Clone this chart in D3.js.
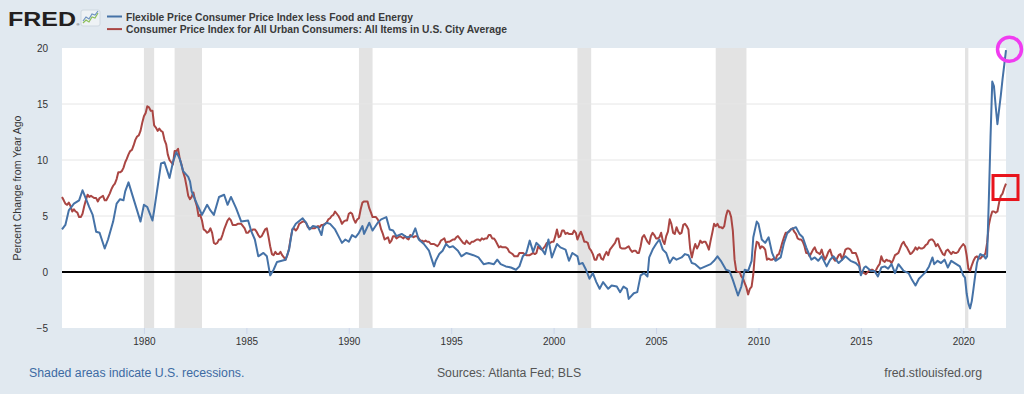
<!DOCTYPE html>
<html>
<head>
<meta charset="utf-8">
<script src="https://cdn.jsdelivr.net/npm/d3@7/dist/d3.min.js"></script>
<style>
  body { margin: 0; background: #e1e9f0; }
  svg { display: block; font-family: "Liberation Sans", Arial, sans-serif; }
</style>
</head>
<body>
<svg id="chart" width="1024" height="394"></svg>
<script>
// CPI all items, percent change from year ago, monthly from Jan 1976
var cpiStart = "1976-01";
var cpiValues = [
  6.7, 6.4, 6.1, 6.0, 6.2, 5.9, 5.4, 5.6, 5.4, 5.3, 4.9, 4.9,
  5.2, 5.9, 6.4, 6.9, 6.7, 6.8, 6.7, 6.6, 6.6, 6.3, 6.6, 6.7,
  6.8, 6.4, 6.4, 6.7, 7.0, 7.4, 7.7, 7.9, 8.3, 8.9, 8.9, 9.0,
  9.3, 9.8, 10.1, 10.5, 10.8, 10.9, 11.3, 11.8, 12.1, 12.2, 12.6, 13.3,
  13.9, 14.2, 14.8, 14.7, 14.4, 14.4, 13.1, 12.9, 12.6, 12.8, 12.6, 12.5,
  11.8, 11.4, 10.5, 10.0, 9.8, 9.6, 10.8, 10.8, 11.0, 10.1, 9.6, 8.9,
  8.4, 7.6, 6.8, 6.5, 6.7, 7.1, 6.4, 5.9, 5.0, 5.1, 4.6, 3.8,
  3.7, 3.5, 3.6, 3.9, 3.5, 2.6, 2.5, 2.6, 2.9, 2.9, 3.3, 3.8,
  4.2, 4.6, 4.8, 4.6, 4.2, 4.2, 4.2, 4.3, 4.3, 4.3, 4.1, 3.9,
  3.5, 3.5, 3.7, 3.7, 3.8, 3.8, 3.6, 3.3, 3.1, 3.2, 3.5, 3.8,
  3.9, 3.1, 2.3, 1.6, 1.5, 1.8, 1.6, 1.6, 1.8, 1.5, 1.3, 1.1,
  1.5, 2.1, 3.0, 3.8, 3.9, 3.7, 3.9, 4.3, 4.4, 4.5, 4.5, 4.4,
  4.0, 3.9, 3.9, 3.9, 3.9, 4.0, 4.1, 4.0, 4.2, 4.2, 4.3, 4.4,
  4.7, 4.8, 5.0, 5.1, 5.4, 5.2, 5.0, 4.7, 4.3, 4.5, 4.6, 4.6,
  5.2, 5.3, 5.2, 4.7, 4.4, 4.7, 4.8, 5.6, 6.2, 6.3, 6.3, 6.3,
  5.7, 5.3, 4.9, 4.9, 4.9, 4.7, 4.4, 3.8, 3.4, 2.9, 3.0, 3.1,
  2.6, 2.8, 3.2, 3.2, 3.0, 3.1, 3.2, 3.1, 3.0, 3.2, 3.0, 2.9,
  3.3, 3.2, 3.1, 3.2, 3.2, 3.0, 2.8, 2.8, 2.7, 2.8, 2.7, 2.7,
  2.5, 2.5, 2.5, 2.4, 2.3, 2.5, 2.8, 2.9, 3.0, 2.6, 2.7, 2.7,
  2.8, 2.9, 2.9, 3.1, 3.2, 3.0, 2.8, 2.6, 2.5, 2.8, 2.6, 2.5,
  2.7, 2.7, 2.8, 2.9, 2.9, 2.8, 3.0, 2.9, 3.0, 3.0, 3.3, 3.3,
  3.0, 3.0, 2.8, 2.5, 2.2, 2.3, 2.2, 2.2, 2.2, 2.1, 1.8, 1.7,
  1.6, 1.4, 1.4, 1.4, 1.7, 1.7, 1.7, 1.6, 1.5, 1.5, 1.5, 1.6,
  1.7, 1.6, 1.7, 2.3, 2.1, 2.0, 2.1, 2.3, 2.6, 2.6, 2.6, 2.7,
  2.7, 3.2, 3.8, 3.1, 3.2, 3.7, 3.7, 3.4, 3.5, 3.4, 3.4, 3.4,
  3.7, 3.5, 2.9, 3.3, 3.6, 3.2, 2.7, 2.7, 2.6, 2.1, 1.9, 1.6,
  1.1, 1.1, 1.5, 1.6, 1.2, 1.1, 1.5, 1.8, 1.5, 2.0, 2.2, 2.4,
  2.6, 3.0, 3.0, 2.2, 2.1, 2.1, 2.1, 2.2, 2.3, 2.0, 1.8, 1.9,
  1.9, 1.7, 1.7, 2.3, 3.1, 3.3, 3.0, 2.7, 2.5, 3.2, 3.5, 3.3,
  3.0, 3.0, 3.1, 3.5, 2.8, 2.5, 3.2, 3.6, 4.7, 4.3, 3.5, 3.4,
  4.0, 3.6, 3.4, 3.5, 4.2, 4.3, 4.1, 3.8, 2.1, 1.3, 2.0, 2.5,
  2.1, 2.4, 2.8, 2.6, 2.7, 2.7, 2.4, 2.0, 2.8, 3.5, 4.3, 4.1,
  4.3, 4.0, 4.0, 3.9, 4.1, 5.0, 5.5, 5.4, 4.9, 3.7, 1.1, 0.1,
  0.0, 0.0, -0.4, -0.6, -1.0, -1.4, -2.0, -1.5, -1.3, -0.2, 1.8, 2.7,
  2.6, 2.1, 2.3, 2.2, 2.0, 1.1, 1.2, 1.1, 1.1, 1.2, 1.1, 1.5,
  1.6, 2.1, 2.6, 3.1, 3.5, 3.5, 3.6, 3.8, 3.9, 3.6, 3.4, 3.0,
  2.9, 2.9, 2.7, 2.3, 1.7, 1.7, 1.4, 1.7, 2.0, 2.2, 1.8, 1.7,
  1.6, 2.0, 1.5, 1.1, 1.4, 1.8, 2.0, 1.5, 1.2, 1.0, 1.2, 1.5,
  1.6, 1.1, 1.5, 2.0, 2.1, 2.1, 2.0, 1.7, 1.7, 1.7, 1.3, 0.8,
  -0.1, 0.0, -0.1, -0.2, 0.0, 0.1, 0.2, 0.2, 0.0, 0.2, 0.5, 0.7,
  1.4, 1.0, 0.9, 1.1, 1.0, 1.0, 0.8, 1.1, 1.5, 1.6, 1.7, 2.1,
  2.5, 2.7, 2.4, 2.2, 1.9, 1.6, 1.7, 1.9, 2.2, 2.0, 2.2, 2.1,
  2.1, 2.2, 2.4, 2.5, 2.8, 2.9, 2.9, 2.7, 2.3, 2.5, 2.2, 1.9,
  1.6, 1.5, 1.9, 2.0, 1.8, 1.6, 1.8, 1.7, 1.7, 1.8, 2.1, 2.3,
  2.5, 2.3, 1.5, 0.3, 0.1, 0.6, 1.0, 1.3, 1.4, 1.2, 1.2, 1.4,
  1.4, 1.7, 2.6, 4.2, 4.9, 5.4, 5.4, 5.3, 5.4, 6.2, 6.8, 7.0,
  7.5, 7.9
];

// Flexible price CPI less food and energy
var flexPoints = [
  ["1976-01",3.8],["1976-03",4.2],["1976-05",5.5],["1976-08",6.1],["1976-11",6.4],
  ["1977-01",7.3],["1977-02",6.9],["1977-05",5.8],["1977-07",5.1],["1977-09",3.6],["1977-11",3.5],
  ["1978-02",2.1],["1978-04",2.9],["1978-07",4.5],["1978-09",6.1],["1978-11",6.5],
  ["1979-01",6.4],["1979-02",7.2],["1979-04",8.0],["1979-06",7.0],["1979-09",5.5],["1979-11",4.5],
  ["1980-01",6.0],["1980-03",5.8],["1980-06",4.6],["1980-07",5.5],["1980-09",7.6],["1980-11",9.7],
  ["1981-01",9.8],["1981-04",8.4],["1981-06",9.8],["1981-08",10.7],["1981-10",10.1],["1981-12",9.0],
  ["1982-03",8.5],["1982-04",8.1],["1982-05",7.2],["1982-08",6.1],["1982-11",5.1],
  ["1983-02",6.0],["1983-04",5.5],["1983-06",5.1],["1983-09",6.7],["1983-12",6.9],
  ["1984-02",6.0],["1984-04",6.7],["1984-07",5.7],["1984-10",4.5],
  ["1985-02",4.6],["1985-04",3.6],["1985-06",2.9],["1985-08",1.4],["1985-11",1.7],
  ["1986-01",1.4],["1986-03",-0.3],["1986-05",0.2],["1986-07",0.9],["1986-12",1.1],
  ["1987-02",2.0],["1987-04",3.8],["1987-06",4.3],["1987-10",4.8],["1987-12",4.4],
  ["1988-02",3.8],["1988-04",4.1],["1988-07",4.0],["1988-09",3.3],["1988-10",4.1],["1988-12",4.4],
  ["1989-02",4.3],["1989-05",3.8],["1989-07",3.2],["1989-09",2.6],["1989-11",2.9],
  ["1990-01",2.7],["1990-03",3.3],["1990-05",3.1],["1990-07",3.5],["1990-09",4.1],["1990-10",3.4],
  ["1991-01",4.4],["1991-03",3.7],["1991-06",4.4],["1991-08",4.7],["1991-11",4.9],
  ["1992-01",3.8],["1992-03",3.7],["1992-05",3.2],["1992-08",3.4],["1992-11",3.1],
  ["1993-02",3.2],["1993-04",3.9],["1993-06",2.9],["1993-09",2.5],["1993-12",1.9],
  ["1994-03",0.5],["1994-04",1.0],["1994-06",1.6],["1994-08",1.9],["1994-10",2.5],["1994-12",2.2],
  ["1995-02",2.3],["1995-05",1.9],["1995-07",1.4],["1995-10",1.7],
  ["1996-02",1.5],["1996-05",1.3],["1996-08",0.7],["1996-11",0.8],
  ["1997-02",0.7],["1997-04",1.1],["1997-06",0.7],["1997-09",0.5],["1997-12",0.4],
  ["1998-03",0.2],["1998-05",0.5],["1998-07",1.4],["1998-09",1.7],["1998-11",2.8],
  ["1999-01",1.8],["1999-03",2.6],["1999-05",2.3],["1999-08",1.6],["1999-10",2.9],["1999-12",1.3],
  ["2000-03",2.5],["2000-05",2.2],["2000-08",2.0],["2000-10",1.0],["2000-12",1.7],
  ["2001-03",1.4],["2001-04",0.7],["2001-06",0.8],["2001-08",0.2],["2001-10",-0.6],["2001-12",-0.1],
  ["2002-02",-0.9],["2002-04",-1.5],["2002-06",-0.9],["2002-09",-1.5],["2002-11",-1.2],
  ["2003-02",-1.3],["2003-04",-1.8],["2003-06",-1.3],["2003-08",-1.5],["2003-09",-2.4],["2003-12",-1.9],
  ["2004-02",-1.8],["2004-04",-0.3],["2004-06",-0.1],["2004-08",-0.4],["2004-09",1.3],["2004-11",2.0],
  ["2005-01",2.5],["2005-03",2.9],["2005-05",2.0],["2005-07",1.7],["2005-09",0.8],["2005-11",1.3],
  ["2006-01",1.1],["2006-04",1.3],["2006-06",1.6],["2006-08",1.5],["2006-10",0.8],["2006-12",0.7],
  ["2007-03",0.3],["2007-06",0.5],["2007-09",0.7],["2007-11",1.0],
  ["2008-01",1.4],["2008-03",1.0],["2008-06",0.2],["2008-08",0.1],["2008-10",-0.7],
  ["2009-01",-2.1],["2009-03",-1.3],["2009-05",0.2],["2009-07",0.1],["2009-09",1.0],["2009-10",3.1],["2009-12",4.5],
  ["2010-01",4.3],["2010-03",2.9],["2010-05",2.6],["2010-07",3.1],["2010-09",1.7],["2010-11",1.0],
  ["2011-02",1.3],["2011-04",2.6],["2011-06",3.5],["2011-08",3.8],["2011-11",4.0],
  ["2012-01",3.4],["2012-03",3.1],["2012-05",2.2],["2012-08",1.1],["2012-10",1.3],["2012-12",1.0],
  ["2013-02",1.4],["2013-05",0.5],["2013-07",1.1],["2013-09",1.4],["2013-12",0.8],
  ["2014-02",1.1],["2014-04",1.4],["2014-07",1.0],["2014-10",0.8],["2014-12",0.5],
  ["2015-01",-0.3],["2015-03",0.4],["2015-04",0.5],["2015-07",0.1],["2015-09",0.1],["2015-11",-0.4],
  ["2016-01",0.4],["2016-03",0.5],["2016-05",0.3],["2016-07",0.7],["2016-09",-0.1],["2016-11",0.7],
  ["2017-02",0.1],["2017-05",-0.1],["2017-07",-0.7],["2017-09",-1.2],["2017-11",-0.6],
  ["2018-01",-0.3],["2018-03",0.0],["2018-05",0.5],["2018-07",1.3],["2018-08",0.7],["2018-10",1.0],["2018-12",0.8],
  ["2019-02",1.1],["2019-04",0.4],["2019-06",1.0],["2019-08",0.8],["2019-11",0.5],
  ["2020-01",-0.3],["2020-02",-0.5],["2020-03",-1.9],["2020-04",-2.8],["2020-05",-3.25],["2020-06",-2.6],
  ["2020-07",-1.5],["2020-08",-0.3],["2020-09",0.8],["2020-10",1.3],["2020-11",1.6],["2020-12",1.5],
  ["2021-01",1.5],["2021-02",1.2],["2021-03",1.4],["2021-04",6.5],["2021-05",12.0],["2021-06",17.0],
  ["2021-07",16.6],["2021-08",14.8],["2021-09",13.2],["2021-10",14.5],["2021-11",15.8],["2021-12",17.2],
  ["2022-01",18.5],["2022-02",19.8]
];

var recessions = [
  ["1980-01", "1980-07"], ["1981-07", "1982-11"], ["1990-07", "1991-03"],
  ["2001-03", "2001-11"], ["2007-12", "2009-06"], ["2020-02", "2020-04"]
];

var yTicks = [-5, 0, 5, 10, 15, 20];
var xTickYears = [1980, 1985, 1990, 1995, 2000, 2005, 2010, 2015, 2020];
var seriesNames = [
  "Flexible Price Consumer Price Index less Food and Energy",
  "Consumer Price Index for All Urban Consumers: All Items in U.S. City Average"
];
var seriesColors = ["#4572a7", "#aa4643"];

var parseMonth = d3.timeParse("%Y-%m");

var svg = d3.select("#chart");
var margin = {top: 48, right: 18, bottom: 66, left: 62},
    width = 1024 - margin.left - margin.right,
    height = 394 - margin.top - margin.bottom;

var x = d3.scaleTime()
    .domain([parseMonth("1976-01"), parseMonth("2022-02")])
    .range([margin.left, margin.left + width]);

var y = d3.scaleLinear()
    .domain([-5, 20])
    .range([margin.top + height, margin.top]);

var cpiData = cpiValues.map(function(v, i) {
  var d = parseMonth(cpiStart);
  return {date: d3.timeMonth.offset(d, i), value: v};
});
var flexData = flexPoints.map(function(p) { return {date: parseMonth(p[0]), value: p[1]}; });

// plot background
svg.append("rect")
  .attr("x", margin.left).attr("y", margin.top)
  .attr("width", width).attr("height", height)
  .attr("fill", "#fff");

// recession shading
svg.append("g").selectAll("rect")
  .data(recessions)
  .enter().append("rect")
  .attr("x", function(d) { return x(parseMonth(d[0])); })
  .attr("width", function(d) { return x(parseMonth(d[1])) - x(parseMonth(d[0])); })
  .attr("y", margin.top)
  .attr("height", height)
  .attr("fill", "#e3e3e3");

// grid
svg.append("g").selectAll("line")
  .data(yTicks.filter(function(t) { return t > 0 && t < 20; }))
  .enter().append("line")
  .attr("x1", margin.left).attr("x2", margin.left + width)
  .attr("y1", function(d) { return y(d); }).attr("y2", function(d) { return y(d); })
  .attr("stroke", "#e6e6e6").attr("stroke-width", 1);

// y axis
var yAxis = svg.append("g")
  .attr("transform", "translate(" + margin.left + ",0)")
  .call(d3.axisLeft(y).tickValues(yTicks).tickSize(0).tickPadding(14));
yAxis.select(".domain").remove();
yAxis.selectAll("text")
  .style("font-size", "10px")
  .style("font-family", "'Liberation Sans', Arial, sans-serif")
  .attr("fill", "#333");

// x axis
var xAxis = svg.append("g")
  .attr("transform", "translate(0," + (margin.top + height) + ")")
  .call(d3.axisBottom(x)
    .tickValues(xTickYears.map(function(yr) { return new Date(yr, 0, 1); }))
    .tickFormat(d3.timeFormat("%Y"))
    .tickSize(6).tickPadding(4));
xAxis.select(".domain").remove();
xAxis.selectAll("line").attr("stroke", "#ccd6eb");
xAxis.selectAll("text")
  .style("font-size", "10px")
  .style("font-family", "'Liberation Sans', Arial, sans-serif")
  .attr("fill", "#333");

// y title
svg.append("text")
  .attr("transform", "translate(21," + (margin.top + height / 2) + ") rotate(-90)")
  .attr("text-anchor", "middle")
  .style("font-size", "10.5px")
  .attr("fill", "#333")
  .text("Percent Change from Year Ago");

// zero line
svg.append("line")
  .attr("x1", margin.left).attr("x2", margin.left + width)
  .attr("y1", y(0)).attr("y2", y(0))
  .attr("stroke", "#000").attr("stroke-width", 2);

var line = d3.line()
  .x(function(d) { return x(d.date); })
  .y(function(d) { return y(d.value); });

svg.append("path").datum(cpiData)
  .attr("d", line).attr("fill", "none")
  .attr("stroke", seriesColors[1]).attr("stroke-width", 2)
  .attr("stroke-linejoin", "round");

svg.append("path").datum(flexData)
  .attr("d", line).attr("fill", "none")
  .attr("stroke", seriesColors[0]).attr("stroke-width", 2)
  .attr("stroke-linejoin", "round");

// FRED logo
svg.append("text")
  .attr("x", 8).attr("y", 26)
  .attr("textLength", 68).attr("lengthAdjust", "spacingAndGlyphs")
  .style("font", "900 21px 'Liberation Sans', Arial, sans-serif")
  .attr("fill", "#231f20")
  .text("FRED");
svg.append("text")
  .attr("x", 76.5).attr("y", 26)
  .style("font-size", "4px").attr("fill", "#231f20")
  .text("®");
var icon = svg.append("g");
icon.append("rect")
  .attr("x", 81).attr("y", 10).attr("width", 19).attr("height", 16).attr("rx", 2)
  .attr("fill", "#eef2f5").attr("stroke", "#cfd8e0");
icon.append("polyline")
  .attr("points", "83,23 86,20 89,22 92,17 95,18 98,13")
  .attr("fill", "none").attr("stroke", "#8dbf5a").attr("stroke-width", 1.2);
icon.append("polyline")
  .attr("points", "83,21 86,17 89,19 92,14 95,15 98,11")
  .attr("fill", "none").attr("stroke", "#6f93c0").attr("stroke-width", 1.2);

// legend
var legendWidths = [287, 381];
var legend = svg.append("g").selectAll("g")
  .data(seriesNames)
  .enter().append("g")
  .attr("transform", function(d, i) { return "translate(107," + (16.5 + i * 12.6) + ")"; });
legend.append("line")
  .attr("x1", 0).attr("x2", 15)
  .attr("stroke", function(d, i) { return seriesColors[i]; })
  .attr("stroke-width", 2);
legend.append("text")
  .attr("x", 19).attr("y", 4)
  .attr("textLength", function(d, i) { return legendWidths[i]; })
  .attr("lengthAdjust", "spacingAndGlyphs")
  .style("font", "bold 11.4px 'Liberation Sans Narrow', 'Liberation Sans', Arial, sans-serif")
  .attr("fill", "#3a3a3a")
  .text(function(d) { return d; });

// footer
svg.append("text")
  .attr("x", 29).attr("y", 377)
  .style("font-size", "12.3px").attr("fill", "#3d6ba3")
  .text("Shaded areas indicate U.S. recessions.");
svg.append("text")
  .attr("x", 509).attr("y", 377).attr("text-anchor", "middle")
  .style("font-size", "12.3px").attr("fill", "#555")
  .text("Sources: Atlanta Fed; BLS");
svg.append("text")
  .attr("x", 982).attr("y", 377).attr("text-anchor", "end")
  .style("font-size", "12.3px").attr("fill", "#555")
  .text("fred.stlouisfed.org");

// highlight marks on the latest readings
var lastFlex = flexData[flexData.length - 1],
    lastCpi = cpiData[cpiData.length - 1];
svg.append("circle")
  .attr("cx", x(lastFlex.date) + 3.5).attr("cy", y(lastFlex.value) - 1)
  .attr("r", 12)
  .attr("fill", "none").attr("stroke", "#f03cf0").attr("stroke-width", 3.5);
svg.append("rect")
  .attr("x", x(lastCpi.date) - 13).attr("y", y(lastCpi.value) - 8)
  .attr("width", 25).attr("height", 24)
  .attr("fill", "none").attr("stroke", "#e8141c").attr("stroke-width", 3);
</script>
</body>
</html>
